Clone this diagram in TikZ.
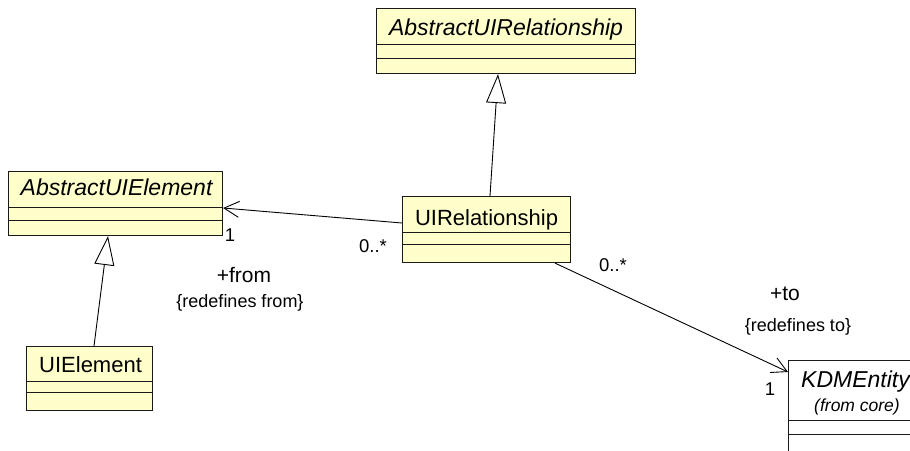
\documentclass[tikz,border=0pt]{standalone}
\usepackage{fontspec}
\setmainfont{Liberation Sans}
\usetikzlibrary{arrows.meta,calc}
\definecolor{umlyellow}{HTML}{FFFFCC}
\definecolor{umlborder}{HTML}{1A1A1A}
\begin{document}
\begin{tikzpicture}[x=1pt,y=-1pt,
  umlbox/.style={draw=umlborder,line width=1.1pt,fill=umlyellow,inner sep=0pt,anchor=north west},
  plainbox/.style={draw=umlborder,line width=1.1pt,fill=white,inner sep=0pt,anchor=north west},
  divider/.style={draw=umlborder,line width=0.9pt},
  cname/.style={font=\fontsize{22}{26}\selectfont,anchor=base,inner sep=0pt},
  cnameit/.style={font=\fontsize{23}{27}\selectfont\itshape,anchor=base,inner sep=0pt},
  role/.style={font=\fontsize{21}{25}\selectfont,anchor=base,inner sep=0pt},
  constr/.style={font=\fontsize{18}{22}\selectfont,anchor=base,inner sep=0pt},
  mult/.style={font=\fontsize{18.5}{22}\selectfont,anchor=base,inner sep=0pt},
  gen/.style={draw=black,line width=0.9pt,-{Triangle[length=29pt,width=20pt,fill=white,line width=0.9pt]}},
  assoc/.style={draw=black,line width=0.9pt,-{Straight Barb[length=15pt,width=16pt,line width=0.9pt]}}
]
\useasboundingbox (0,0) rectangle (910,450);
\clip (0,0) rectangle (910,450);

% AbstractUIRelationship
\node[umlbox,minimum width=259pt,minimum height=65pt] (aur) at (376,8) {};
\node[cnameit] (aurname) at ($(aur.north)+(0,27)$) {AbstractUIRelationship};
\draw[divider] ($(aur.north west)+(0,36)$) -- ($(aur.north east)+(0,36)$);
\draw[divider] ($(aur.north west)+(0,50)$) -- ($(aur.north east)+(0,50)$);

% AbstractUIElement
\node[umlbox,minimum width=214pt,minimum height=64pt] (aue) at (8,171) {};
\node[cnameit] (auename) at ($(aue.north)+(1,24)$) {AbstractUIElement};
\draw[divider] ($(aue.north west)+(0,36)$) -- ($(aue.north east)+(0,36)$);
\draw[divider] ($(aue.north west)+(0,49)$) -- ($(aue.north east)+(0,49)$);

% UIRelationship
\node[umlbox,minimum width=168pt,minimum height=66pt] (uir) at (402,196) {};
\node[cname] (uirname) at ($(uir.north)+(0,29)$) {UIRelationship};
\draw[divider] ($(uir.north west)+(0,36)$) -- ($(uir.north east)+(0,36)$);
\draw[divider] ($(uir.north west)+(0,48)$) -- ($(uir.north east)+(0,48)$);

% UIElement
\node[umlbox,minimum width=126pt,minimum height=64pt] (uie) at (26,346) {};
\node[cname] (uiename) at ($(uie.north)+(1,26)$) {UIElement};
\draw[divider] ($(uie.north west)+(0,35)$) -- ($(uie.north east)+(0,35)$);
\draw[divider] ($(uie.north west)+(0,46)$) -- ($(uie.north east)+(0,46)$);

% KDMEntity (cut off by the picture edge)
\node[plainbox,minimum width=138pt,minimum height=120pt] (kdm) at (788,360) {};
\node[cnameit] (kdmname) at (855.5,387) {KDMEntity};
\node[font=\fontsize{17.5}{21}\selectfont\itshape,anchor=base,inner sep=0pt] (kdmfrom) at (857,411) {(from core)};
\draw[divider] ($(kdm.north west)+(0,60)$) -- ($(kdm.north east)+(0,60)$);
\draw[divider] ($(kdm.north west)+(0,74)$) -- ($(kdm.north east)+(0,74)$);

% generalizations
\draw[gen] ($(uir.north west)+(88,0)$) -- ($(aur.south west)+(122,0)$);
\draw[gen] ($(uie.north west)+(68,0)$) -- ($(aue.south west)+(100,0)$);

% associations
\draw[assoc] ($(uir.north west)+(0,27)$) -- ($(aue.north east)+(0,37)$);
\draw[assoc] ($(uir.south west)+(153,0)$) -- ($(kdm.north west)+(0,12)$);

% labels
\node[mult] (m1) at (230,241) {1};
\node[mult] (m2) at (373,252) {0..*};
\node[role] (rfrom) at (244,282) {+from};
\node[constr] (cfrom) at (240,307) {\{redefines from\}};
\node[mult] (m3) at (613,271) {0..*};
\node[role] (rto) at (785,300) {+to};
\node[constr] (cto) at (798,331) {\{redefines to\}};
\node[mult] (m4) at (770,395) {1};
\end{tikzpicture}
\end{document}
